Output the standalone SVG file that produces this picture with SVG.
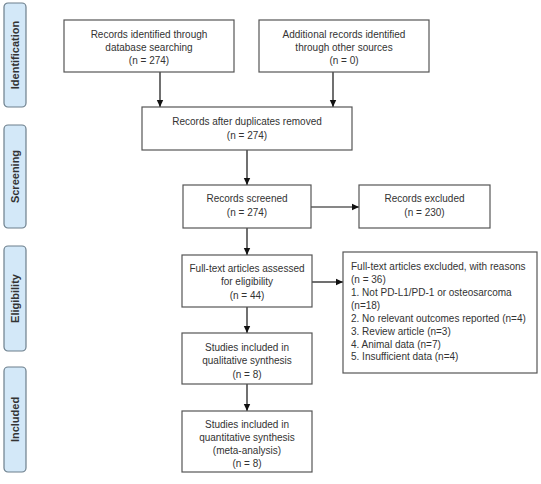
<svg xmlns="http://www.w3.org/2000/svg" width="541" height="484" viewBox="0 0 541 484">
<defs>
<marker id="ah" markerWidth="8" markerHeight="8" refX="7" refY="4" orient="auto" markerUnits="userSpaceOnUse">
<path d="M0,0.8 L7,4 L0,7.2 Z" fill="#111"/>
</marker>
<style>
.box{fill:#fff;stroke:#555;stroke-width:1.2}
.side{fill:#d3e8f8;stroke:#6d7f8c;stroke-width:1.2}
.t{font-family:"Liberation Sans",Arial,sans-serif;font-size:10px;fill:#333;text-anchor:middle}
.tl{font-family:"Liberation Sans",Arial,sans-serif;font-size:10px;fill:#333}
.s{font-family:"Liberation Sans",Arial,sans-serif;font-size:11px;font-weight:bold;fill:#333;text-anchor:middle}
.c{stroke:#111;stroke-width:1.2;fill:none;marker-end:url(#ah)}
</style>
</defs>
<rect width="541" height="484" fill="#fff"/>
<g id="stage-identification">
<rect class="side" x="4" y="3" width="22" height="104" rx="4"/>
<text class="s" transform="translate(19,55) rotate(-90)">Identification</text>
</g>
<g id="stage-screening">
<rect class="side" x="4" y="125" width="22" height="103" rx="4"/>
<text class="s" transform="translate(19,176.5) rotate(-90)">Screening</text>
</g>
<g id="stage-eligibility">
<rect class="side" x="4" y="246" width="22" height="105" rx="4"/>
<text class="s" transform="translate(19,298.5) rotate(-90)">Eligibility</text>
</g>
<g id="stage-included">
<rect class="side" x="4" y="367" width="22" height="105" rx="4"/>
<text class="s" transform="translate(19,419.5) rotate(-90)">Included</text>
</g>
<g id="connectors">
<line class="c" x1="160" y1="72" x2="160" y2="107"/>
<line class="c" x1="333" y1="72" x2="333" y2="107"/>
<line class="c" x1="247" y1="150" x2="247" y2="185"/>
<line class="c" x1="311" y1="207" x2="359" y2="207"/>
<line class="c" x1="247" y1="228" x2="247" y2="255"/>
<line class="c" x1="312" y1="282" x2="343" y2="282"/>
<line class="c" x1="247" y1="307" x2="247" y2="333"/>
<line class="c" x1="247" y1="384" x2="247" y2="411"/>
</g>
<g id="records-identified">
<rect class="box" x="64" y="20" width="170" height="52"/>
<text class="t" x="149" y="38">Records identified through</text>
<text class="t" x="149" y="51">database searching</text>
<text class="t" x="149" y="64">(n = 274)</text>
</g>
<g id="additional-records">
<rect class="box" x="259" y="20" width="170" height="52"/>
<text class="t" x="344" y="38">Additional records identified</text>
<text class="t" x="344" y="51">through other sources</text>
<text class="t" x="344" y="64">(n = 0)</text>
</g>
<g id="after-duplicates">
<rect class="box" x="142" y="107" width="210" height="43"/>
<text class="t" x="247" y="125">Records after duplicates removed</text>
<text class="t" x="247" y="139">(n = 274)</text>
</g>
<g id="records-screened">
<rect class="box" x="183" y="185" width="128" height="43"/>
<text class="t" x="247" y="202">Records screened</text>
<text class="t" x="247" y="216">(n = 274)</text>
</g>
<g id="records-excluded">
<rect class="box" x="359" y="185" width="131" height="43"/>
<text class="t" x="424.5" y="202">Records excluded</text>
<text class="t" x="424.5" y="216">(n = 230)</text>
</g>
<g id="full-text-assessed">
<rect class="box" x="182" y="255" width="130" height="52"/>
<text class="t" x="247" y="272">Full-text articles assessed</text>
<text class="t" x="247" y="285">for eligibility</text>
<text class="t" x="247" y="299">(n = 44)</text>
</g>
<g id="full-text-excluded">
<rect class="box" x="343" y="252" width="194" height="121"/>
<text class="tl" x="351" y="270">Full-text articles excluded, with reasons</text>
<text class="tl" x="351" y="283"> (n = 36)</text>
<text class="tl" x="351" y="296">1. Not PD-L1/PD-1 or osteosarcoma</text>
<text class="tl" x="351" y="309">(n=18)</text>
<text class="tl" x="351" y="322">2. No relevant outcomes reported (n=4)</text>
<text class="tl" x="351" y="335">3. Review article (n=3)</text>
<text class="tl" x="351" y="348">4. Animal data (n=7)</text>
<text class="tl" x="351" y="360">5. Insufficient data (n=4)</text>
</g>
<g id="qualitative">
<rect class="box" x="182" y="333" width="130" height="51"/>
<text class="t" x="247" y="351">Studies included in</text>
<text class="t" x="247" y="364">qualitative synthesis</text>
<text class="t" x="247" y="378">(n = 8)</text>
</g>
<g id="quantitative">
<rect class="box" x="182" y="411" width="130" height="61"/>
<text class="t" x="247" y="428">Studies included in</text>
<text class="t" x="247" y="441">quantitative synthesis</text>
<text class="t" x="247" y="454">(meta-analysis)</text>
<text class="t" x="247" y="467">(n = 8)</text>
</g>
</svg>
